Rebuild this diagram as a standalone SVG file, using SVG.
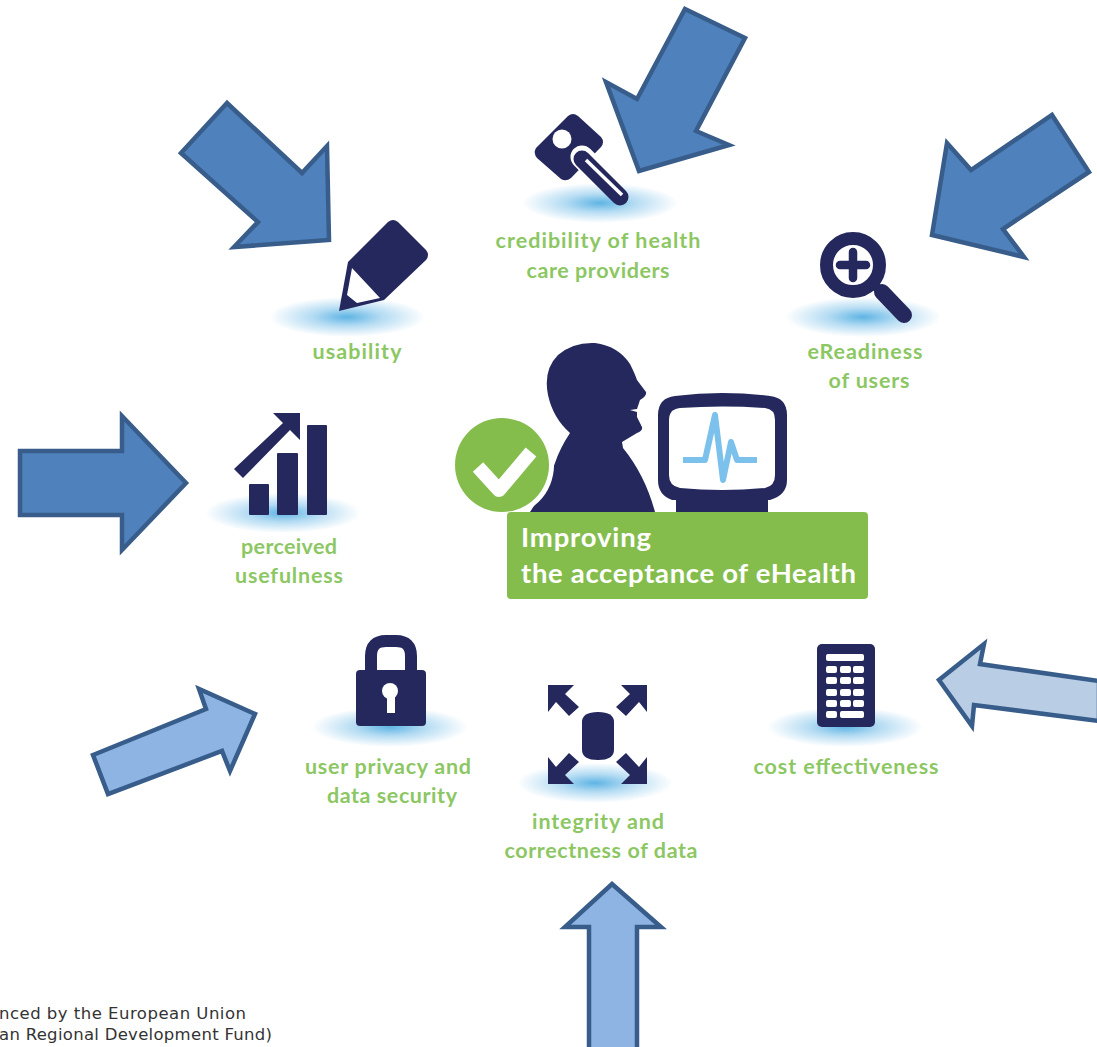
<svg xmlns="http://www.w3.org/2000/svg" width="1097" height="1047" viewBox="0 0 1097 1047">
<style>
.a{stroke:#385d8a;stroke-width:4.5;stroke-linejoin:miter}
.d{fill:#4f81bd}.m{fill:#8eb4e3}.l{fill:#b9cde5}
.n{fill:#25285c}
.w{fill:#fff}
.t{font-family:"Lato","Open Sans",sans-serif;font-weight:700;font-size:21.5px;fill:#8cc763;text-anchor:middle}
.h{font-family:"Lato","Open Sans",sans-serif;font-weight:700;font-size:27.5px;fill:#fff}
.f{font-family:"DejaVu Sans",Verdana,sans-serif;font-size:16.5px;fill:#333}
</style>
<defs>
<radialGradient id="g"><stop offset="0" stop-color="#5fb4e4"/><stop offset=".45" stop-color="#b5dcf3"/><stop offset="1" stop-color="#fff"/></radialGradient>
</defs>
<rect width="1097" height="1047" fill="#fff"/>

<g id="usability">
<ellipse cx="347" cy="317" rx="78" ry="20" fill="url(#g)"/>
<path class="n" d="M388,222Q393,218 398,222L426,250Q430,255 426,260L384,300L339,311L348,262Z"/>
<path class="w" d="M352,268L380,298L357,303L347,295Z"/>
<text class="t" x="357" y="359" textLength="89">usability</text>
</g>
<g id="credibility">
<ellipse cx="600" cy="203" rx="78" ry="20" fill="url(#g)"/>
<path class="n" d="M568,116Q573,112 578,116L601,137Q605,142 601,147L571,178Q566,182 561,179L537,158Q533,153 536,148Z"/>
<circle class="w" cx="562" cy="139" r="9.5"/>
<path d="M582,157L597,172" stroke="#fff" stroke-width="23" stroke-linecap="round"/>
<path d="M582,159L620,197" stroke="#25285c" stroke-width="17" stroke-linecap="round"/>
<path d="M586,160L622,195" stroke="#fff" stroke-width="3.5"/>
<text class="t" x="598" y="248" textLength="205">credibility of health</text>
<text class="t" x="598" y="278" textLength="143">care providers</text>
</g>
<g id="ereadiness">
<ellipse cx="863" cy="317" rx="78" ry="20" fill="url(#g)"/>
<circle cx="853" cy="265" r="26.5" fill="#fff" stroke="#25285c" stroke-width="13"/>
<path d="M840,265H866M853,252V278" stroke="#25285c" stroke-width="8.5" stroke-linecap="round"/>
<path d="M874,285L882,292" stroke="#25285c" stroke-width="9"/>
<path d="M882,292L904,315" stroke="#25285c" stroke-width="16" stroke-linecap="round"/>
<text class="t" x="865" y="359" textLength="115">eReadiness</text>
<text class="t" x="869" y="388" textLength="81">of users</text>
</g>
<g id="perceived">
<ellipse cx="283" cy="513" rx="78" ry="20" fill="url(#g)"/>
<rect class="n" x="249" y="484" width="20" height="31" rx="1"/>
<rect class="n" x="277" y="453" width="21" height="62" rx="1"/>
<rect class="n" x="307" y="425" width="20" height="90" rx="1"/>
<path class="n" d="M234,469L283,423L273,413H300V440L290,430L243,478Z"/>
<text class="t" x="289" y="554" textLength="96">perceived</text>
<text class="t" x="289" y="583" textLength="108">usefulness</text>
</g>
<g id="privacy">
<ellipse cx="390" cy="727" rx="78" ry="20" fill="url(#g)"/>
<path d="M371,676V656Q371,641 386,641H396Q411,641 411,656V676" fill="none" stroke="#25285c" stroke-width="12"/>
<rect class="n" x="356" y="670" width="70" height="56" rx="4"/>
<circle class="w" cx="390" cy="691" r="8"/>
<rect class="w" x="387" y="692" width="8" height="21"/>
<text class="t" x="388" y="774" textLength="166">user privacy and</text>
<text class="t" x="392" y="803" textLength="130">data security</text>
</g>
<g id="integrity">
<ellipse cx="595" cy="783" rx="78" ry="20" fill="url(#g)"/>
<path class="n" d="M582,722Q582,712 598,712Q614,712 614,722V750Q614,760 598,760Q582,760 582,750Z"/>
<path class="n" d="M548,685H574L565,694L579,707L569,716L556,702L548,712Z"/>
<path class="n" d="M548,685H574L565,694L579,707L569,716L556,702L548,712Z" transform="translate(1195,0) scale(-1,1)"/>
<path class="n" d="M548,685H574L565,694L579,707L569,716L556,702L548,712Z" transform="translate(0,1469) scale(1,-1)"/>
<path class="n" d="M548,685H574L565,694L579,707L569,716L556,702L548,712Z" transform="translate(1195,1469) scale(-1,-1)"/>
<text class="t" x="598" y="829" textLength="132">integrity and</text>
<text class="t" x="601" y="858" textLength="193">correctness of data</text>
</g>
<g id="cost">
<ellipse cx="845" cy="727" rx="78" ry="20" fill="url(#g)"/>
<rect class="n" x="817" y="644" width="58" height="83" rx="5"/>
<g class="w">
<rect x="826" y="654" width="38" height="7" rx="2"/>
<rect x="826" y="666" width="11" height="7" rx="2"/><rect x="840" y="666" width="11" height="7" rx="2"/><rect x="853" y="666" width="11" height="7" rx="2"/>
<rect x="826" y="677" width="11" height="7" rx="2"/><rect x="840" y="677" width="11" height="7" rx="2"/><rect x="853" y="677" width="11" height="7" rx="2"/>
<rect x="826" y="689" width="11" height="7" rx="2"/><rect x="840" y="689" width="11" height="7" rx="2"/><rect x="853" y="689" width="11" height="7" rx="2"/>
<rect x="826" y="700" width="11" height="7" rx="2"/><rect x="840" y="700" width="11" height="7" rx="2"/><rect x="853" y="700" width="11" height="7" rx="2"/>
<rect x="826" y="711" width="11" height="7" rx="2"/><rect x="840" y="711" width="24" height="7" rx="2"/>
</g>
<text class="t" x="846" y="774" textLength="185">cost effectiveness</text>
</g>
<g id="center">
<path class="n" d="M530,512Q545,490 555,463Q560,448 570,433Q553,418 548,395Q543,370 558,355Q573,342 595,343Q618,346 630,364Q635,374 637,380L646,392Q647,396 640,400L637,409L630,410L637,412L637,417L642,427Q643,431 637,433L622,442L623,448Q645,475 655,512Z"/>
<path class="n" d="M676,512V500H672Q658,495 658,480V415Q658,398 675,396Q722,390 770,396Q787,398 787,415V480Q787,495 770,500H768V512Z"/>
<path class="w" d="M669,420Q669,409 680,408Q722,405 765,408Q775,409 775,420V475Q775,486 765,488Q722,492 680,488Q669,486 669,475Z"/>
<polyline points="683,460 705,460 715,415 723,480 731,442 737,460 757,460" fill="none" stroke="#7bc1ec" stroke-width="6" stroke-linejoin="round"/>
<circle cx="502" cy="465" r="52" fill="#fff"/>
<circle cx="502" cy="465" r="47" fill="#84bd4c"/>
<polyline points="478,467 499,490 531,452" fill="none" stroke="#fff" stroke-width="14" stroke-linejoin="round"/>
<rect x="507" y="512" width="361" height="87" rx="4" fill="#84bd4c"/>
<text class="h" x="521" y="547" textLength="130">Improving</text>
<text class="h" x="521" y="583" textLength="335">the acceptance of eHealth</text>
</g>

<g id="connectors">
<polygon class="a d" points="227,103 181,153 258,222 234,247 329,240 327,146 302,173"/>
<polygon class="a d" points="685,9 745,38 696,131 729,145 639,171 606,82 637,99"/>
<polygon class="a d" points="1052,115 1089,172 1003,229 1024,257 932,235 947,143 971,170"/>
<polygon class="a d" points="20,451 122,451 122,416 186,483 122,550 122,515 20,515"/>
<polygon class="a m" points="93,755 206,709 199,689 255,714 230,771 222,751 108,794"/>
<polygon class="a l" points="1099,681 980,664 984,644 939,680 972,726 974,705 1099,721"/>
<polygon class="a m" points="612,884 661,927 637,927 637,1050 589,1050 589,927 565,927"/>
</g>
<g id="footer">
<text class="f" x="-1" y="1019" textLength="247">nced by the European Union</text>
<text class="f" x="-1" y="1040" textLength="273">an Regional Development Fund)</text>
</g>
</svg>
